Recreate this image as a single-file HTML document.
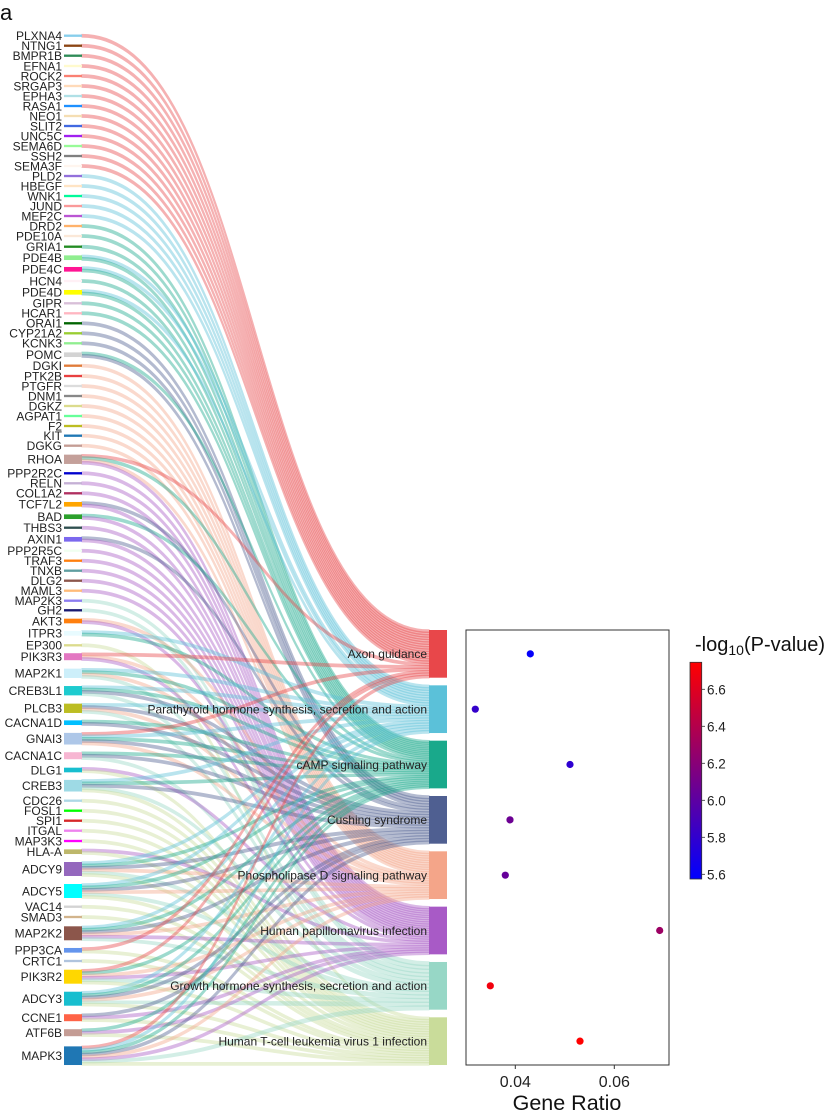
<!DOCTYPE html>
<html><head><meta charset="utf-8"><style>
html,body{margin:0;padding:0;background:#fff;}
svg{display:block;font-family:"Liberation Sans",Arial,sans-serif;}
</style></head><body>
<svg id="s" width="831" height="1119" viewBox="0 0 831 1119" xmlns="http://www.w3.org/2000/svg">
<defs><linearGradient id="cb" x1="0" y1="0" x2="0" y2="1"><stop offset="0" stop-color="#ff0000"/><stop offset="1" stop-color="#0000ff"/></linearGradient></defs>
<rect width="831" height="1119" fill="#fff"/>
<g id="links"></g>
<g id="bars"></g>
<g id="boxes">
<rect x="429" y="630" width="18" height="47.7" fill="#e8474a"/>
<rect x="429" y="685.33" width="18" height="47.7" fill="#5bc1d9"/>
<rect x="429" y="740.66" width="18" height="47.7" fill="#19a98b"/>
<rect x="429" y="795.99" width="18" height="47.7" fill="#4f5f91"/>
<rect x="429" y="851.32" width="18" height="47.7" fill="#f4a589"/>
<rect x="429" y="906.65" width="18" height="47.7" fill="#a85ac6"/>
<rect x="429" y="961.98" width="18" height="47.7" fill="#97d7c6"/>
<rect x="429" y="1017.31" width="18" height="47.7" fill="#c9dc9a"/>
</g>
<text x="0" y="20" font-size="22" fill="#111">a</text>
<g font-size="12" text-anchor="end" fill="#222">
<text x="62" y="40">PLXNA4</text>
<text x="62" y="50">NTNG1</text>
<text x="62" y="60">BMPR1B</text>
<text x="62" y="70.3">EFNA1</text>
<text x="62" y="80.3">ROCK2</text>
<text x="62" y="90.3">SRGAP3</text>
<text x="62" y="100.3">EPHA3</text>
<text x="62" y="110.3">RASA1</text>
<text x="62" y="120.3">NEO1</text>
<text x="62" y="130.3">SLIT2</text>
<text x="62" y="140.3">UNC5C</text>
<text x="62" y="150.3">SEMA6D</text>
<text x="62" y="160.3">SSH2</text>
<text x="62" y="170.3">SEMA3F</text>
<text x="62" y="180.3">PLD2</text>
<text x="62" y="190.3">HBEGF</text>
<text x="62" y="200.3">WNK1</text>
<text x="62" y="210.3">JUND</text>
<text x="62" y="220.3">MEF2C</text>
<text x="62" y="230.3">DRD2</text>
<text x="62" y="240.3">PDE10A</text>
<text x="62" y="251">GRIA1</text>
<text x="62" y="262">PDE4B</text>
<text x="62" y="273.6">PDE4C</text>
<text x="62" y="285.3">HCN4</text>
<text x="62" y="296.6">PDE4D</text>
<text x="62" y="307.6">GIPR</text>
<text x="62" y="317.6">HCAR1</text>
<text x="62" y="327.6">ORAI1</text>
<text x="62" y="337.6">CYP21A2</text>
<text x="62" y="347.6">KCNK3</text>
<text x="62" y="359">POMC</text>
<text x="62" y="370">DGKI</text>
<text x="62" y="380.3">PTK2B</text>
<text x="62" y="390.3">PTGFR</text>
<text x="62" y="400.3">DNM1</text>
<text x="62" y="410.3">DGKZ</text>
<text x="62" y="420.3">AGPAT1</text>
<text x="62" y="430.3">F2</text>
<text x="62" y="440">KIT</text>
<text x="62" y="450">DGKG</text>
<text x="62" y="463.6">RHOA</text>
<text x="62" y="477.6">PPP2R2C</text>
<text x="62" y="487.6">RELN</text>
<text x="62" y="497.6">COL1A2</text>
<text x="62" y="508.6">TCF7L2</text>
<text x="62" y="521">BAD</text>
<text x="62" y="532">THBS3</text>
<text x="62" y="543.6">AXIN1</text>
<text x="62" y="555">PPP2R5C</text>
<text x="62" y="565">TRAF3</text>
<text x="62" y="575">TNXB</text>
<text x="62" y="585">DLG2</text>
<text x="62" y="595">MAML3</text>
<text x="62" y="605">MAP2K3</text>
<text x="62" y="614.6">GH2</text>
<text x="62" y="625.3">AKT3</text>
<text x="62" y="637.6">ITPR3</text>
<text x="62" y="649.6">EP300</text>
<text x="62" y="661">PIK3R3</text>
<text x="62" y="677.6">MAP2K1</text>
<text x="62" y="695">CREB3L1</text>
<text x="62" y="712.6">PLCB3</text>
<text x="62" y="727">CACNA1D</text>
<text x="62" y="743">GNAI3</text>
<text x="62" y="760">CACNA1C</text>
<text x="62" y="774.3">DLG1</text>
<text x="62" y="790">CREB3</text>
<text x="62" y="805">CDC26</text>
<text x="62" y="815">FOSL1</text>
<text x="62" y="825">SPI1</text>
<text x="62" y="835">ITGAL</text>
<text x="62" y="845.3">MAP3K3</text>
<text x="62" y="856">HLA-A</text>
<text x="62" y="873.3">ADCY9</text>
<text x="62" y="895.3">ADCY5</text>
<text x="62" y="911">VAC14</text>
<text x="62" y="921.3">SMAD3</text>
<text x="62" y="937.6">MAP2K2</text>
<text x="62" y="954.6">PPP3CA</text>
<text x="62" y="965.3">CRTC1</text>
<text x="62" y="981">PIK3R2</text>
<text x="62" y="1003">ADCY3</text>
<text x="62" y="1022">CCNE1</text>
<text x="62" y="1037">ATF6B</text>
<text x="62" y="1060">MAPK3</text>
</g>
<g font-size="12" text-anchor="end" fill="#222">
<text x="427" y="658.2">Axon guidance</text>
<text x="427" y="713.5">Parathyroid hormone synthesis, secretion and action</text>
<text x="427" y="768.8">cAMP signaling pathway</text>
<text x="427" y="824.1">Cushing syndrome</text>
<text x="427" y="879.5">Phospholipase D signaling pathway</text>
<text x="427" y="934.8">Human papillomavirus infection</text>
<text x="427" y="990.1">Growth hormone synthesis, secretion and action</text>
<text x="427" y="1045.5">Human T-cell leukemia virus 1 infection</text>
</g>
<rect x="466" y="630" width="203" height="435" fill="none" stroke="#333" stroke-width="1"/>
<circle cx="530.3" cy="653.85" r="3.6" fill="#0500fa"/>
<circle cx="475.3" cy="709.18" r="3.6" fill="#3400cb"/>
<circle cx="570" cy="764.51" r="3.6" fill="#2e00d1"/>
<circle cx="510" cy="819.84" r="3.6" fill="#6c0093"/>
<circle cx="505.3" cy="875.17" r="3.6" fill="#66009a"/>
<circle cx="659.7" cy="930.5" r="3.6" fill="#9c0063"/>
<circle cx="490.3" cy="985.83" r="3.6" fill="#f2000d"/>
<circle cx="580" cy="1041.16" r="3.6" fill="#ff0000"/>
<line x1="515.3" y1="1065" x2="515.3" y2="1069" stroke="#333"/>
<line x1="614.3" y1="1065" x2="614.3" y2="1069" stroke="#333"/>
<text x="515.3" y="1087" font-size="16" text-anchor="middle" fill="#222">0.04</text>
<text x="614.3" y="1087" font-size="16" text-anchor="middle" fill="#222">0.06</text>
<text x="567" y="1110" font-size="21.5" text-anchor="middle" fill="#111">Gene Ratio</text>
<rect x="690" y="662.3" width="11.7" height="216.7" fill="url(#cb)" stroke="#333" stroke-width="0.8"/>
<g stroke="#333" stroke-width="0.8">
<line x1="701.7" y1="689.3" x2="705" y2="689.3"/>
<line x1="701.7" y1="726.3" x2="705" y2="726.3"/>
<line x1="701.7" y1="763.3" x2="705" y2="763.3"/>
<line x1="701.7" y1="800.3" x2="705" y2="800.3"/>
<line x1="701.7" y1="837.3" x2="705" y2="837.3"/>
<line x1="701.7" y1="874.3" x2="705" y2="874.3"/>
</g>
<g font-size="13.5" fill="#222">
<text x="707" y="694.3">6.6</text>
<text x="707" y="731.3">6.4</text>
<text x="707" y="768.3">6.2</text>
<text x="707" y="805.3">6.0</text>
<text x="707" y="842.3">5.8</text>
<text x="707" y="879.3">5.6</text>
</g>
<text x="695" y="651" font-size="20" fill="#111">-log<tspan font-size="14" dy="4">10</tspan><tspan dy="-4">(P-value)</tspan></text>
</svg>
<script>
(function(){
var C=['#e8474a','#5bc1d9','#19a98b','#4f5f91','#f4a589','#a85ac6','#97d7c6','#c9dc9a'];
var L='APCSDHGT';
var G=[
[35.7,'#87ceeb','A'],[45.7,'#8b4513','A'],[55.7,'#2e8b57','A'],[66,'#fffacd','A'],[76,'#fa8072','A'],
[86,'#ffdab9','A'],[96,'#b0e0e6','A'],[106,'#1e90ff','A'],[116,'#f5deb3','A'],[126,'#4169e1','A'],
[136,'#a020f0','A'],[146,'#98fb98','A'],[156,'#808080','A'],[166,'#fff5ee','A'],
[176,'#9370db','P'],[186,'#ffe4c4','P'],[196,'#00fa9a','P'],[206,'#fa9a9a','P'],[216,'#ba55d3','P'],
[226,'#ffb26b','C'],[236,'#fbe8d8','C'],[246.7,'#228b22','C'],[257.7,'#90ee90','PC'],[269.3,'#ff1493','PC'],
[281,'#fff0f5','C'],[292.3,'#ffff00','PC'],[303.3,'#d8bfd8','C'],[313.3,'#ffb6c1','C'],
[323.3,'#006400','S'],[333.3,'#9acd32','S'],[343.3,'#90ee90','S'],[354.7,'#d3d3d3','CS'],
[365.7,'#e07b39','D'],[376,'#e84040','D'],[386,'#dcdcdc','D'],[396,'#888888','D'],[406,'#dbdb8d','D'],
[416,'#66ff99','D'],[426,'#bcbd22','D'],[435.7,'#1f77b4','D'],[445.7,'#c49c94','D'],
[459.3,'#c4a09a','ACDH'],
[473.3,'#0000cd','H'],[483.3,'#c5b0d5','H'],[493.3,'#b03060','H'],[504.3,'#ffa500','SH'],[516.7,'#2ca02c','CH'],
[527.7,'#2f4f4f','H'],[539.3,'#7b68ee','SH'],[550.7,'#f0fff0','H'],[560.7,'#ff7f0e','H'],[570.7,'#5f9ea0','H'],
[580.7,'#8c564b','H'],[590.7,'#ffbb78','H'],[600.7,'#8c7cf0','G'],[610.3,'#191970','G'],[621,'#ff7f0e','DH'],
[633.3,'#e8fbff','PC'],[645.3,'#dbdb8d','T'],[656.7,'#e377c2','ADH'],[673.3,'#cdeffa','PCDG'],
[690.7,'#1ecbcf','PCSG'],[708.3,'#bcbd22','PSDG'],[722.7,'#00bfff','CS'],[738.7,'#aec7e8','APCSD'],
[755.7,'#f7b6d2','CSG'],[770,'#17becf','HT'],[785.7,'#9edae5','PCSGT'],
[800.7,'#add8e6','T'],[810.7,'#00ff00','T'],[820.7,'#d62728','T'],[830.7,'#ee82ee','T'],[841,'#ff00ff','T'],
[851.7,'#bdb76b','HT'],[869,'#9467bd','PCSDGT'],[891,'#00ffff','PCSDGT'],[906.7,'#d3d3d3','T'],[917,'#d2b48c','T'],
[933.3,'#8c564b','PCSDHG'],[950.3,'#6495ed','AT'],[961,'#b0c4de','T'],[976.7,'#ffd700','ACDHGT'],
[998.7,'#17becf','PCSDGT'],[1017.7,'#ff6347','SHT'],[1032.7,'#c49c94','CHT'],[1055.7,'#1f77b4','APCSDHGT']
];
var t=2.33,BH=47.7,x0=82,x1=429,xm=(x0+x1)/2;
var cnt=[0,0,0,0,0,0,0,0],links=[];
var NS='http://www.w3.org/2000/svg';
var bars=document.getElementById('bars');
G.forEach(function(g){
  var n=g[2].length,top=g[0]-n*t/2;
  var r=document.createElementNS(NS,'rect');
  r.setAttribute('x',64);r.setAttribute('y',top.toFixed(2));r.setAttribute('width',18);r.setAttribute('height',(n*t).toFixed(2));r.setAttribute('fill',g[1]);
  bars.appendChild(r);
  for(var k=0;k<n;k++){var p=L.indexOf(g[2][k]);links.push([p,top+k*t]);cnt[p]++;}
});
var used=[0,0,0,0,0,0,0,0];
var lg=document.getElementById('links');
links.forEach(function(l){
  var p=l[0],w=BH/cnt[p],y1=630+p*55.33+used[p]*w;used[p]++;
  var a=l[1].toFixed(2),b=(l[1]+t).toFixed(2),c=y1.toFixed(2),d=(y1+w).toFixed(2);
  var s='M'+x0+','+a+'C'+xm+','+a+' '+xm+','+c+' '+x1+','+c+'L'+x1+','+d+'C'+xm+','+d+' '+xm+','+b+' '+x0+','+b+'Z';
  var e=document.createElementNS(NS,'path');
  e.setAttribute('d',s);e.setAttribute('fill',C[p]);e.setAttribute('stroke',C[p]);
  e.setAttribute('stroke-width','1.4');e.setAttribute('stroke-linejoin','round');e.setAttribute('opacity','0.42');
  lg.appendChild(e);
});
})();
</script>
</body></html>
